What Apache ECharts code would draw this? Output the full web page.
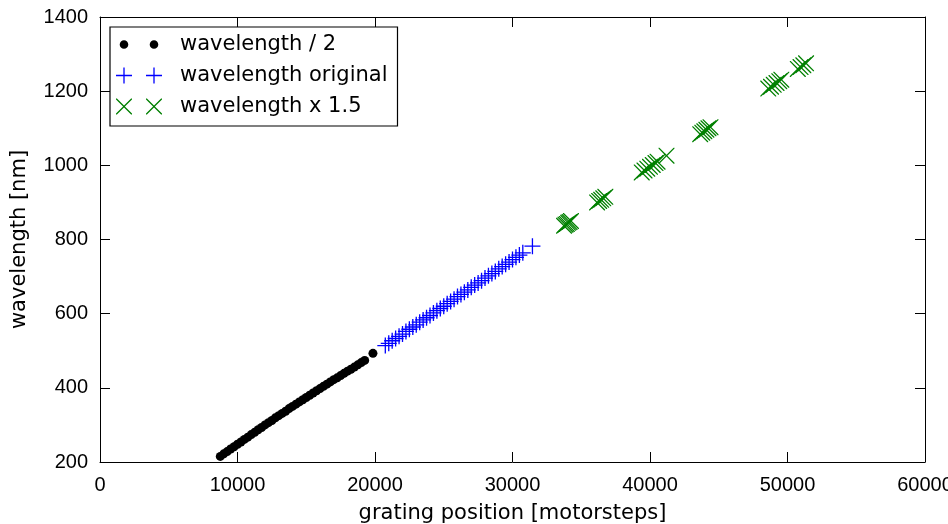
<!DOCTYPE html>
<html>
<head>
<meta charset="utf-8">
<script src="https://cdn.jsdelivr.net/npm/echarts@6/dist/echarts.min.js"></script>
<style>
html,body{margin:0;padding:0;background:#fff;}
#chart{width:948px;height:524px;}
</style>
</head>
<body>
<div id="chart"></div>
<script>
// ---------------- data ----------------
const seriesNames = ['wavelength / 2', 'wavelength original', 'wavelength x 1.5'];

const blackX = [8750, 9000, 9250, 9500, 9750, 10000, 10250, 10500, 10750, 11000,
  11250, 11500, 11750, 12000, 12250, 12500, 12750, 13000, 13250, 13500,
  13750, 14000, 14250, 14500, 14750, 15000, 15250, 15500, 15750, 16000,
  16250, 16500, 16750, 17000, 17250, 17500, 17750, 18000, 18250, 18500,
  18750, 19000, 19250, 19850];
const blackY = [215, 222, 228, 235, 241, 248, 254, 261, 267, 274,
  280, 287, 293, 300, 306, 312, 319, 325, 331, 337,
  344, 350, 356, 362, 368, 374, 380, 386, 392, 398,
  404, 410, 416, 422, 427, 433, 439, 445, 450, 456,
  462, 468, 474, 493];

const blueX = [20750, 21000, 21250, 21500, 21750, 22000, 22250, 22500, 22750, 23000,
  23250, 23500, 23750, 24000, 24250, 24500, 24750, 25000, 25250, 25500,
  25750, 26000, 26250, 26500, 26750, 27000, 27250, 27500, 27750, 28000,
  28250, 28500, 28750, 29000, 29250, 29500, 29750, 30000, 30250, 30500,
  30750, 31450];
const blueY = [514, 520, 527, 533, 539, 545, 552, 558, 564, 570,
  577, 583, 589, 595, 602, 608, 614, 620, 627, 633,
  639, 646, 652, 658, 664, 671, 677, 683, 689, 696,
  702, 708, 714, 721, 727, 733, 739, 746, 752, 758,
  764, 782];

const greenX = [33750, 33850, 33950, 34050, 34150, 34250,
  36150, 36300, 36450, 36600, 36750,
  39400, 39600, 39800, 40000, 40200, 40400, 40550, 41200,
  43650, 43800, 43950, 44100, 44250, 44400,
  48600, 48800, 49000, 49200, 49400, 49550,
  50750, 50950, 51150, 51350];
const greenY = [837, 840, 842, 845, 847, 850,
  900, 904, 907, 911, 915,
  981, 986, 991, 996, 1001, 1006, 1010, 1026,
  1084, 1088, 1092, 1096, 1100, 1103,
  1207, 1212, 1217, 1222, 1227, 1231,
  1260, 1265, 1270, 1275];

const xMin = 0, xMax = 60000, xStep = 10000;
const yMin = 200, yMax = 1400, yStep = 200;
const xTitle = 'grating position [motorsteps]';
const yTitle = 'wavelength [nm]';

// ---------------- marker shapes ----------------
function circlePath(cx, cy, r) {
  return `M${cx - r},${cy} A${r},${r} 0 1,0 ${cx + r},${cy} A${r},${r} 0 1,0 ${cx - r},${cy} Z`;
}
function plusPath(cx, cy, h, t) {
  const a = t / 2;
  const p = [[cx - a, cy - h], [cx + a, cy - h], [cx + a, cy - a], [cx + h, cy - a], [cx + h, cy + a],
    [cx + a, cy + a], [cx + a, cy + h], [cx - a, cy + h], [cx - a, cy + a], [cx - h, cy + a],
    [cx - h, cy - a], [cx - a, cy - a]];
  return 'M' + p.map(q => q[0].toFixed(2) + ',' + q[1].toFixed(2)).join(' L') + ' Z';
}
function crossPath(cx, cy, h, t) {
  const a = t / Math.SQRT2;
  const p = [[-h + a, -h], [0, -a], [h - a, -h], [h, -h], [h, -h + a], [a, 0], [h, h - a], [h, h],
    [h - a, h], [0, a], [-h + a, h], [-h, h], [-h, h - a], [-a, 0], [-h, -h + a], [-h, -h]];
  return 'M' + p.map(q => (cx + q[0]).toFixed(2) + ',' + (cy + q[1]).toFixed(2)).join(' L') + ' Z';
}
const LW = 59, LH = 17;
const anchors = `M0,0 M${LW},${LH} `;
const iconDot = 'path://' + anchors + circlePath(8, 8.5, 4.3) + ' ' + circlePath(38, 8.5, 4.3);
const iconPlus = 'path://' + anchors + plusPath(8, 8.5, 8, 1.3) + ' ' + plusPath(38, 8.5, 8, 1.3);
const iconCross = 'path://' + anchors + crossPath(8, 8.5, 8, 1.3) + ' ' + crossPath(38, 8.5, 8, 1.3);
const symPlus = 'path://' + plusPath(0, 0, 8, 1.3);
const symCross = 'path://' + crossPath(0, 0, 8, 1.3);

const zip = (xs, ys) => xs.map((x, i) => [x, ys[i]]);

// ---------------- chart ----------------
const chart = echarts.init(document.getElementById('chart'), null, { renderer: 'canvas' });
const tickFont = 'Liberation Sans';
const textFont = 'DejaVu Sans';
const axisLineStyle = { color: '#000', width: 1 };
const tickCommon = { show: true, inside: true, length: 10, lineStyle: { color: '#000', width: 1 } };

chart.setOption({
  animation: false,
  backgroundColor: '#fff',
  grid: { left: 100, right: 23, top: 17, bottom: 62, containLabel: false, outerBoundsMode: 'none' },
  legend: {
    orient: 'vertical',
    left: 110, top: 27,
    padding: [7, 10, 9, 6],
    itemGap: 10,
    itemWidth: LW, itemHeight: LH,
    selectedMode: false,
    backgroundColor: '#fff',
    borderColor: '#000', borderWidth: 1.2, borderRadius: 0,
    textStyle: { fontFamily: textFont, fontSize: 21, color: '#000' },
    data: [
      { name: seriesNames[0], icon: iconDot },
      { name: seriesNames[1], icon: iconPlus },
      { name: seriesNames[2], icon: iconCross }
    ]
  },
  xAxis: [
    {
      type: 'value', position: 'bottom', min: xMin, max: xMax, interval: xStep,
      name: xTitle, nameLocation: 'middle', nameGap: 41,
      nameTextStyle: { fontFamily: textFont, fontSize: 21, color: '#000' },
      axisLine: { show: true, onZero: false, lineStyle: axisLineStyle },
      axisTick: tickCommon,
      axisLabel: { show: true, margin: 13, fontFamily: tickFont, fontSize: 20, color: '#000',
        showMinLabel: true, showMaxLabel: true, hideOverlap: false, formatter: v => String(v) },
      splitLine: { show: false }
    },
    {
      type: 'value', position: 'top', min: xMin, max: xMax, interval: xStep,
      axisLine: { show: true, onZero: false, lineStyle: axisLineStyle },
      axisTick: tickCommon,
      axisLabel: { show: false },
      splitLine: { show: false }
    }
  ],
  yAxis: [
    {
      type: 'value', position: 'left', min: yMin, max: yMax, interval: yStep,
      name: yTitle, nameLocation: 'middle', nameGap: 70, nameRotate: 90,
      nameTextStyle: { fontFamily: textFont, fontSize: 21, color: '#000' },
      axisLine: { show: true, onZero: false, lineStyle: axisLineStyle },
      axisTick: tickCommon,
      axisLabel: { show: true, margin: 12, fontFamily: tickFont, fontSize: 20, color: '#000',
        showMinLabel: true, showMaxLabel: true, formatter: v => String(v) },
      splitLine: { show: false }
    },
    {
      type: 'value', position: 'right', min: yMin, max: yMax, interval: yStep,
      axisLine: { show: true, onZero: false, lineStyle: axisLineStyle },
      axisTick: tickCommon,
      axisLabel: { show: false },
      splitLine: { show: false }
    }
  ],
  series: [
    {
      name: seriesNames[0], type: 'scatter', xAxisIndex: 0, yAxisIndex: 0,
      symbol: 'circle', symbolSize: 9,
      itemStyle: { color: '#000', opacity: 1 },
      emphasis: { disabled: true },
      data: zip(blackX, blackY)
    },
    {
      name: seriesNames[1], type: 'scatter', xAxisIndex: 0, yAxisIndex: 0,
      symbol: symPlus, symbolSize: 16,
      itemStyle: { color: '#0000ff', opacity: 1 },
      emphasis: { disabled: true },
      data: zip(blueX, blueY)
    },
    {
      name: seriesNames[2], type: 'scatter', xAxisIndex: 0, yAxisIndex: 0,
      symbol: symCross, symbolSize: 16,
      itemStyle: { color: '#008000', opacity: 1 },
      emphasis: { disabled: true },
      data: zip(greenX, greenY)
    }
  ]
});
</script>
</body>
</html>
